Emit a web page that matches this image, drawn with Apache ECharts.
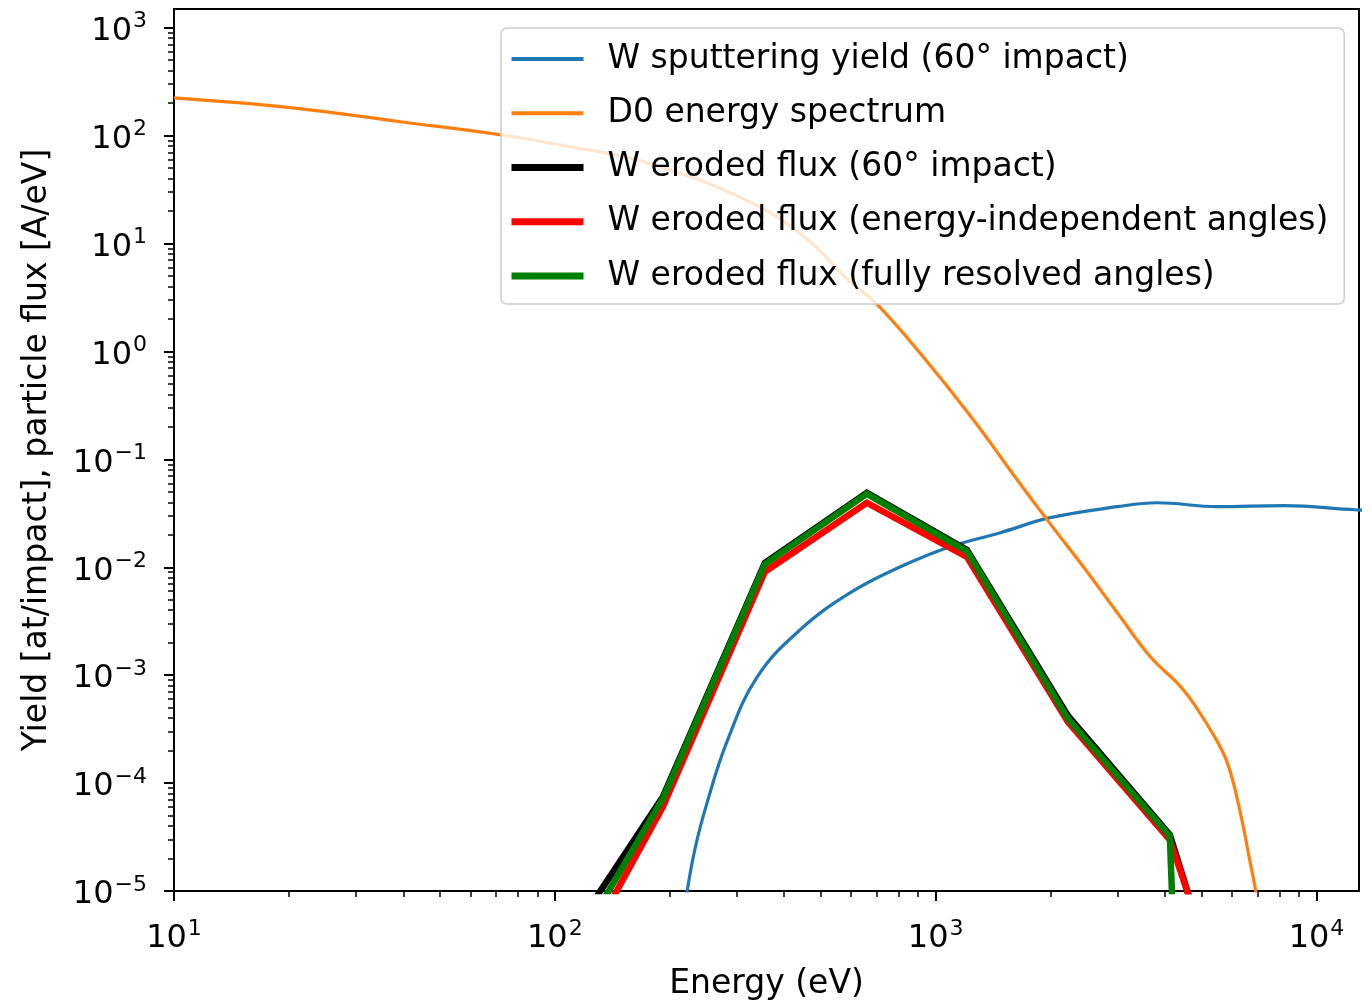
<!DOCTYPE html>
<html>
<head>
<meta charset="utf-8">
<script src="https://cdn.jsdelivr.net/npm/echarts@6/dist/echarts.min.js"></script>
<style>
html, body { margin: 0; padding: 0; background: #ffffff; }
#chart { width: 1372px; height: 1004px; }
</style>
</head>
<body>
<div id="chart"></div>
<script>
// ---------- data ----------
const seriesNames = [
  'W sputtering yield (60° impact)',
  'D0 energy spectrum',
  'W eroded flux (60° impact)',
  'W eroded flux (energy-independent angles)',
  'W eroded flux (fully resolved angles)'
];

// W sputtering yield (60° impact)
const yieldEnergy = [219.6, 233, 251, 283, 340, 441, 597, 808, 1091, 1479, 2000, 3000, 3820, 5490, 8190, 12650, 13500];
const yieldValue  = [7.4e-6, 2.4e-5, 6.56e-5, 2.41e-4, 9.66e-4, 2.64e-3, 5.81e-3, 0.0101, 0.0155, 0.0209, 0.0288, 0.0364, 0.0396, 0.0364, 0.0372, 0.0341, 0.0338];

// D0 energy spectrum
const spectrumEnergy = [10, 20.2, 39.3, 71.8, 110, 174.6, 316, 451, 589, 703, 927, 1256, 1637, 1963, 2442, 3000, 3662, 4470, 5265, 5834, 6310, 6700, 6915, 7050];
const spectrumValue  = [224, 182, 134.5, 101.9, 78.8, 56.1, 25.5, 11.6, 4.62, 2.71, 0.893, 0.233, 0.0647, 0.0275, 0.0101, 3.79e-3, 1.48e-3, 7.33e-4, 3.12e-4, 1.54e-4, 5.3e-5, 1.82e-5, 1.03e-5, 6e-6];

// eroded flux (shared energy bins)
const fluxEnergy   = [104, 192.2, 356.1, 659.6, 1207.8, 2224, 4120, 7630];
const flux60       = [2.85e-6, 7.46e-5, 0.0110, 0.0490, 0.0145, 4.21e-4, 3.32e-5, 3e-8];
const fluxIndep    = [1.16e-6, 6.03e-5, 9.08e-3, 0.0396, 0.0125, 3.7e-4, 2.98e-5, 4.9e-8];
const fluxResolved = [1.78e-6, 7.2e-5, 0.0107, 0.0478, 0.0141, 3.95e-4, 3.22e-5, 1e-30];

// ticks
const xMajorTicks = [10, 100, 1000, 10000];
const yMajorTicks = [1e-5, 1e-4, 1e-3, 1e-2, 1e-1, 1, 10, 100, 1000];
const xMin = 9.9999, xMax = 12930;
const yMin = 0.99999e-5, yMax = 1490;

function minorTicks(majors, lo, hi) {
  const out = [];
  majors.forEach(d => { for (let k = 2; k <= 9; k++) { const v = k * d; if (v > lo && v < hi) out.push(v); } });
  return out;
}
const xMinorTicks = minorTicks(xMajorTicks, xMin, xMax);
const yMinorTicks = minorTicks(yMajorTicks, yMin, yMax);

const pairs = (xs, ys) => xs.map((x, i) => [x, ys[i]]);

// ---------- style ----------
const FONT = 'DejaVu Sans';
const colors = ['#1f77b4', '#ff7f0e', '#000000', '#ff0000', '#008000'];
const lineWidths = [3.2, 3.2, 6.5, 6.5, 6.5];
const legendWidths = [4, 4, 7, 7, 7];

function powLabel(v) {
  const e = Math.round(Math.log10(v));
  const s = e < 0 ? '\u2212' + (-e) : String(e);
  return '{b|10}{s|' + s + '}';
}
const richLabel = {
  b: { fontFamily: FONT, fontSize: 32, color: '#000' },
  s: { fontFamily: FONT, fontSize: 22, color: '#000', padding: [0, 0, 20, 1] }
};

const option = {
  animation: false,
  backgroundColor: '#ffffff',
  color: colors,
  grid: { left: 174, top: 9, width: 1185, height: 882, containLabel: false, outerBoundsMode: 'none', show: true, borderColor: '#000', borderWidth: 2, backgroundColor: 'transparent' },
  legend: {
    orient: 'vertical',
    left: 501, top: 28,
    itemWidth: 72, itemHeight: 14, itemGap: 14.25,
    padding: [11, 16, 8, 7],
    backgroundColor: 'rgba(255,255,255,0.8)',
    borderColor: '#cccccc', borderWidth: 1.5, borderRadius: 6,
    itemStyle: { opacity: 0 },
    textStyle: { fontFamily: FONT, fontSize: 33, color: '#000', lineHeight: 40, padding: [0, 0, 0, 19] },
    data: seriesNames.map((n, i) => ({ name: n, lineStyle: { width: legendWidths[i], color: colors[i] } }))
  },
  xAxis: [
    {
      type: 'log', logBase: 10, min: xMin, max: xMax, position: 'bottom',
      name: 'Energy (eV)', nameLocation: 'middle', nameGap: 77,
      nameTextStyle: { fontFamily: FONT, fontSize: 33, color: '#000' },
      axisLine: { show: false },
      axisTick: { show: true, customValues: xMajorTicks, length: 10, lineStyle: { color: '#000', width: 2 } },
      axisLabel: { show: true, customValues: xMajorTicks, margin: 27, formatter: powLabel, rich: richLabel },
      splitLine: { show: false }, minorTick: { show: false }
    },
    {
      type: 'log', logBase: 10, min: xMin, max: xMax, position: 'bottom', gridIndex: 0,
      axisLine: { show: false },
      axisTick: { show: true, customValues: xMinorTicks, length: 6, lineStyle: { color: '#000', width: 1.5 } },
      axisLabel: { show: false },
      splitLine: { show: false }
    }
  ],
  yAxis: [
    {
      type: 'log', logBase: 10, min: yMin, max: yMax, position: 'left',
      name: 'Yield [at/impact], particle flux [A/eV]', nameLocation: 'middle', nameGap: 120,
      nameTextStyle: { fontFamily: FONT, fontSize: 33, color: '#000' },
      axisLine: { show: false },
      axisTick: { show: true, customValues: yMajorTicks, length: 10, lineStyle: { color: '#000', width: 2 } },
      axisLabel: { show: true, customValues: yMajorTicks, margin: 27, padding: [8, 0, 0, 0], formatter: powLabel, rich: richLabel },
      splitLine: { show: false }, minorTick: { show: false }
    },
    {
      type: 'log', logBase: 10, min: yMin, max: yMax, position: 'left', gridIndex: 0,
      axisLine: { show: false },
      axisTick: { show: true, customValues: yMinorTicks, length: 6, lineStyle: { color: '#000', width: 1.5 } },
      axisLabel: { show: false },
      splitLine: { show: false }
    }
  ],
  series: [
    { name: seriesNames[0], type: 'line', data: pairs(yieldEnergy, yieldValue), symbol: 'none', smooth: 0.4, lineStyle: { width: lineWidths[0], color: colors[0] }, z: 2 },
    { name: seriesNames[1], type: 'line', data: pairs(spectrumEnergy, spectrumValue), symbol: 'none', smooth: 0.4, lineStyle: { width: lineWidths[1], color: colors[1] }, z: 2 },
    { name: seriesNames[2], type: 'line', data: pairs(fluxEnergy, flux60), symbol: 'none', lineStyle: { width: lineWidths[2], color: colors[2], join: 'miter' }, z: 3 },
    { name: seriesNames[3], type: 'line', data: pairs(fluxEnergy, fluxIndep), symbol: 'none', lineStyle: { width: lineWidths[3], color: colors[3], join: 'miter' }, z: 3 },
    { name: seriesNames[4], type: 'line', data: pairs(fluxEnergy, fluxResolved), symbol: 'none', lineStyle: { width: lineWidths[4], color: colors[4], join: 'miter' }, z: 3 }
  ]
};

const chart = echarts.init(document.getElementById('chart'), null, { renderer: 'canvas' });
chart.setOption(option);
</script>
</body>
</html>
